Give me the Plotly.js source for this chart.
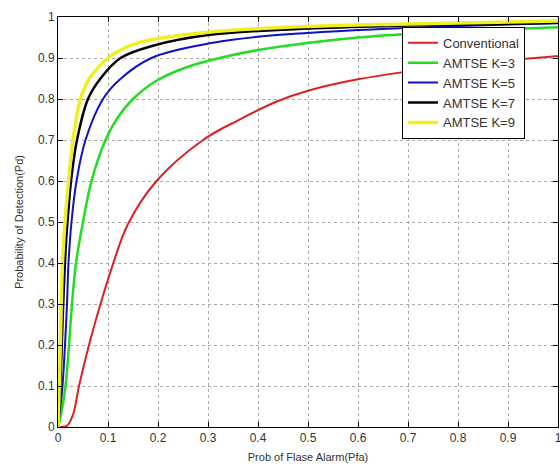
<!DOCTYPE html>
<html><head><meta charset="utf-8">
<script src="https://cdn.plot.ly/plotly-3.0.1.min.js"></script>
<style>html,body{margin:0;padding:0;background:#fff}#chart{width:560px;height:470px}</style>
</head><body><div id="chart"></div>
<script>
const seriesNames = ["Conventional", "AMTSE K=3", "AMTSE K=5", "AMTSE K=7", "AMTSE K=9"];
const seriesColors = ["#dd2020", "#22dd22", "#1010c8", "#000000", "#f0f020"];

const convX = [0, 0.018, 0.03, 0.042, 0.062, 0.085, 0.108, 0.14, 0.197, 0.29, 0.36, 0.44, 0.5, 0.6, 0.8, 1.0];
const convY = [0, 0.003, 0.03, 0.1, 0.2, 0.3, 0.39, 0.495, 0.6, 0.7, 0.748, 0.795, 0.82, 0.848, 0.882, 0.905];

const k3X = [0, 0.006, 0.015, 0.022, 0.028, 0.036, 0.05, 0.067, 0.095, 0.117, 0.15, 0.2, 0.263, 0.323, 0.403, 0.6, 0.8, 1.0];
const k3Y = [0, 0.03, 0.1, 0.2, 0.3, 0.4, 0.5, 0.6, 0.7, 0.75, 0.8, 0.847, 0.88, 0.9, 0.92, 0.95, 0.965, 0.975];

const k5X = [0, 0.004, 0.009, 0.014, 0.018, 0.021, 0.027, 0.037, 0.055, 0.09, 0.123, 0.187, 0.31, 0.4, 0.6, 0.8, 1.0];
const k5Y = [0, 0.04, 0.1, 0.2, 0.3, 0.4, 0.5, 0.6, 0.7, 0.8, 0.847, 0.9, 0.937, 0.952, 0.968, 0.978, 0.985];

const k7X = [0, 0.003, 0.007, 0.011, 0.016, 0.019, 0.026, 0.038, 0.06, 0.085, 0.125, 0.19, 0.3, 0.5, 0.7, 1.0];
const k7Y = [0, 0.06, 0.18, 0.32, 0.45, 0.5, 0.6, 0.7, 0.8, 0.85, 0.9, 0.93, 0.956, 0.972, 0.979, 0.986];

const k9X = [0, 0.002, 0.005, 0.009, 0.014, 0.021, 0.03, 0.045, 0.063, 0.1, 0.14, 0.177, 0.3, 0.5, 0.7, 1.0];
const k9Y = [0, 0.08, 0.22, 0.4, 0.5, 0.6, 0.7, 0.8, 0.85, 0.9, 0.928, 0.942, 0.963, 0.977, 0.983, 0.99];

const tickVals = [0, 0.1, 0.2, 0.3, 0.4, 0.5, 0.6, 0.7, 0.8, 0.9, 1];
const tickText = ["0", "0.1", "0.2", "0.3", "0.4", "0.5", "0.6", "0.7", "0.8", "0.9", "1"];

const xs = [convX, k3X, k5X, k7X, k9X];
const ys = [convY, k3Y, k5Y, k7Y, k9Y];
const widths = [2, 2.5, 2, 2.5, 3.5];

const traces = seriesNames.map((n, i) => ({
  x: xs[i], y: ys[i], name: n, type: "scatter", mode: "lines",
  line: {color: seriesColors[i], width: widths[i], shape: "spline", smoothing: 1}
}));

const axisCommon = {
  range: [0, 1], tickvals: tickVals, ticktext: tickText,
  showline: true, linecolor: "#000", linewidth: 1, mirror: "ticks",
  ticks: "inside", ticklen: 5, tickcolor: "#000",
  showgrid: true, gridcolor: "#aaa", griddash: "dot", gridwidth: 1,
  zeroline: false, ticklabeloverflow: "allow",
  tickfont: {family: "Arial, Liberation Sans, sans-serif", size: 12, color: "#333"}
};

const layout = {
  width: 560, height: 470,
  margin: {l: 58, r: 2, t: 17, b: 43},
  paper_bgcolor: "#fff", plot_bgcolor: "#fff",
  showlegend: true,
  xaxis: Object.assign({}, axisCommon, {
    title: {text: "Prob of Flase Alarm(Pfa)", font: {family: "Arial, Liberation Sans, sans-serif", size: 11, color: "#333"}, standoff: 8}
  }),
  yaxis: Object.assign({}, axisCommon, {
    title: {text: "Probability of Detection(Pd)", font: {family: "Arial, Liberation Sans, sans-serif", size: 11, color: "#333"}, standoff: 12}
  }),
  legend: {
    x: 0.688, y: 0.976, xanchor: "left", yanchor: "top",
    bgcolor: "#fff", bordercolor: "#000", borderwidth: 1,
    font: {family: "Arial, Liberation Sans, sans-serif", size: 13, color: "#333"},
    tracegroupgap: 0
  }
};

Plotly.newPlot("chart", traces, layout, {displayModeBar: false, staticPlot: true});
</script>
</body></html>
